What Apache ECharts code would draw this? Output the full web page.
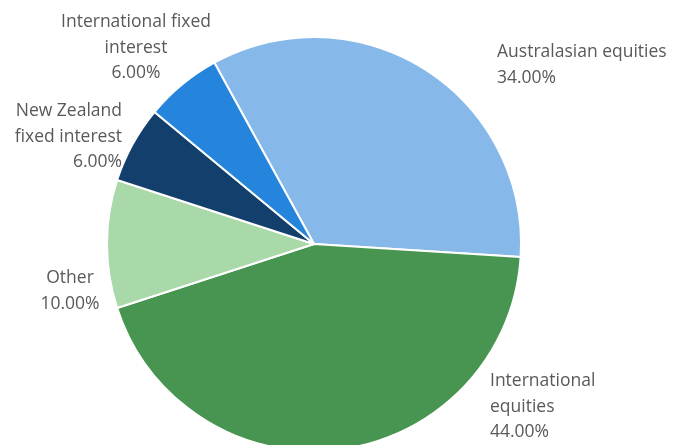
<!DOCTYPE html>
<html>
<head>
<meta charset="utf-8">
<script src="https://cdn.jsdelivr.net/npm/echarts@6/dist/echarts.min.js"></script>
<style>
  html, body { margin: 0; padding: 0; background: #fff; }
  #main { width: 674px; height: 445px; }
</style>
</head>
<body>
<div id="main"></div>
<script>
var categories = ['Australasian equities', 'International equities', 'Other', 'New Zealand fixed interest', 'International fixed interest'];
var labelNames = ['Australasian equities', 'International\nequities', 'Other', 'New Zealand\nfixed interest', 'International fixed\ninterest'];
var shares = [34, 44, 10, 6, 6];
var colors = ['#86B8EA', '#489552', '#A9D9A9', '#133F6D', '#2584DC'];

// where each label block sits (x, y of anchor, alignment)
var labelSpots = [
  { x: 497, y: 65, align: 'left' },
  { x: 490, y: 407, align: 'left' },
  { x: 70, y: 291, align: 'center' },
  { x: 122, y: 137, align: 'right' },
  { x: 136, y: 48, align: 'center' }
];

var myChart = echarts.init(document.getElementById('main'));

var option = {
  backgroundColor: '#ffffff',
  animation: false,
  series: [
    {
      type: 'pie',
      center: [314, 244],
      radius: 207,
      startAngle: 118.8,
      clockwise: true,
      data: categories.map(function (c, i) {
        return { name: c, value: shares[i], itemStyle: { color: colors[i] } };
      }),
      itemStyle: {
        borderColor: '#ffffff',
        borderWidth: 2
      },
      label: {
        show: true,
        position: 'outside',
        color: '#595959',
        fontFamily: 'Open Sans',
        fontSize: 17.5,
        lineHeight: 25.5,
        overflow: 'none',
        formatter: function (p) {
          return labelNames[p.dataIndex] + '\n' + shares[p.dataIndex].toFixed(2) + '%';
        }
      },
      labelLine: { show: false },
      labelLayout: function (params) {
        var s = labelSpots[params.dataIndex];
        return { x: s.x, y: s.y, align: s.align, verticalAlign: 'middle' };
      },
      emphasis: { disabled: true }
    }
  ]
};

myChart.setOption(option);
</script>
</body>
</html>
